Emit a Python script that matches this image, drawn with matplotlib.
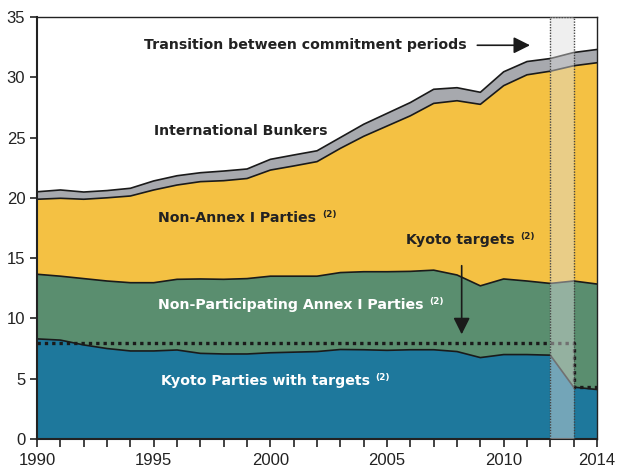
import numpy as np
import matplotlib
matplotlib.use('Agg')
import matplotlib.pyplot as plt

plt.rcParams['font.family'] = ['Liberation Sans', 'DejaVu Sans']

years = np.arange(1990, 2015)
# Gt CO2 per group (stacked from the bottom)
kyoto = [8.3, 8.2, 7.8, 7.5, 7.3, 7.3, 7.38, 7.1, 7.05, 7.05, 7.15, 7.2, 7.25,
         7.42, 7.4, 7.35, 7.4, 7.4, 7.25, 6.75, 7.0, 7.0, 6.95, 4.3, 4.1]
non_participating = [5.36, 5.3, 5.5, 5.6, 5.66, 5.66, 5.86, 6.17, 6.19, 6.25, 6.35, 6.3, 6.25,
                     6.38, 6.47, 6.52, 6.5, 6.6, 6.35, 5.95, 6.27, 6.1, 5.95, 8.8, 8.75]
non_annex = [6.22, 6.46, 6.58, 6.9, 7.19, 7.69, 7.82, 8.07, 8.18, 8.3, 8.8, 9.14, 9.5,
             10.3, 11.23, 12.08, 12.9, 13.83, 14.45, 15.05, 16.03, 17.1, 17.6, 17.85, 18.35]
bunkers = [0.62, 0.69, 0.6, 0.6, 0.64, 0.75, 0.77, 0.74, 0.8, 0.79, 0.89, 0.91, 0.9,
           0.9, 1.0, 1.05, 1.1, 1.17, 1.08, 1.0, 1.15, 1.1, 1.05, 1.1, 1.1]
kyoto_target = [8.0] * 23 + [4.35, 4.35]
transition = [2012, 2013]

colors = ['#1e789c', '#5a8e6f', '#f4c143', '#a7a9ae']

fig = plt.figure(figsize=(6.18, 4.70), dpi=100)
ax = fig.add_axes([0.06, 0.066, 0.906, 0.898])

layers = [kyoto, non_participating, non_annex, bunkers]
stack = np.cumsum(np.array(layers), axis=0)
ax.stackplot(years, *layers, colors=colors, linewidth=0)
for row in stack:
    ax.plot(years, row, color='#1a1a1a', lw=1.2)

ax.plot(years, kyoto_target, color='#1a1a1a', lw=2.4, ls=(0, (1, 1.2)),
        drawstyle='steps-post')

# transition band
ax.axvspan(transition[0], transition[1], facecolor='#dcdcdc', alpha=0.45,
           edgecolor='none', zorder=3)
for xv in transition:
    ax.axvline(xv, color='#444444', lw=1, ls=(0, (1, 1)), zorder=4)
ax.plot(transition, [35, 35], color='#444444', lw=1, ls=(0, (1, 1)), zorder=4)

ax.set_xlim(1990, 2014)
ax.set_ylim(0, 35)
ax.set_xticks(np.arange(1990, 2015), minor=True)
ax.set_xticks([1990, 1995, 2000, 2005, 2010, 2014])
ax.set_yticks(np.arange(0, 36, 5))
ax.tick_params(axis='both', which='both', direction='out', colors='#222222',
               labelsize=12, width=1.2)
ax.tick_params(axis='x', which='major', length=6, pad=4)
ax.tick_params(axis='x', which='minor', length=6)
ax.tick_params(axis='y', length=5)
for s in ax.spines.values():
    s.set_color('#222222')
    s.set_linewidth(1.5)
ax.spines['top'].set_linewidth(1)
ax.spines['right'].set_linewidth(1)

dark = '#222222'
fs = 10.2


def label(x, y, txt, color, sup=True):
    t = ax.text(x, y, txt, color=color, fontsize=fs, fontweight='bold',
                family='DejaVu Sans', va='center', ha='left', zorder=6)
    if sup:
        ax.annotate('(2)', xy=(1, 0.42), xycoords=t, xytext=(4, 0),
                    textcoords='offset points', fontsize=6.5, fontweight='bold',
                    family='DejaVu Sans', color=color, va='bottom', ha='left',
                    zorder=6)
    return t


label(1994.6, 32.65, 'Transition between commitment periods', dark, sup=False)
ax.annotate('', xy=(2011.25, 32.65), xytext=(2008.75, 32.65),
            arrowprops=dict(arrowstyle='-|>,head_length=1.0,head_width=0.5',
                            color='#1a1a1a', lw=1.2), zorder=6)
label(1995.0, 25.5, 'International Bunkers', dark, sup=False)
label(1995.2, 18.35, 'Non-Annex I Parties', dark)
label(2005.8, 16.5, 'Kyoto targets', dark)
ax.annotate('', xy=(2008.2, 8.45), xytext=(2008.2, 14.6),
            arrowprops=dict(arrowstyle='-|>,head_length=1.0,head_width=0.5',
                            color='#1a1a1a', lw=1.2), zorder=6)
label(1995.2, 11.1, 'Non-Participating Annex I Parties', 'white')
label(1995.3, 4.8, 'Kyoto Parties with targets', 'white')

fig.savefig('out.png', dpi=100)
